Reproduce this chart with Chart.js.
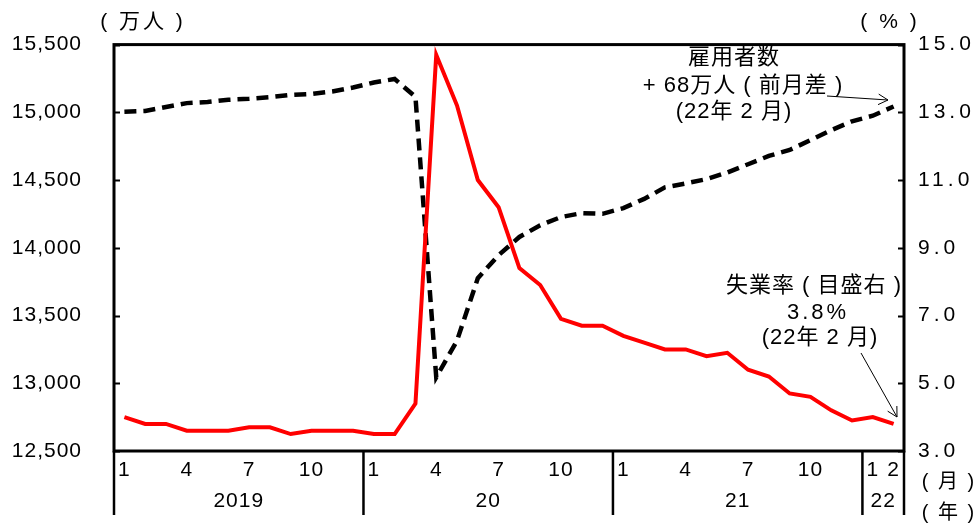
<!DOCTYPE html>
<html>
<head>
<meta charset="utf-8">
<script src="https://cdn.jsdelivr.net/npm/chart.js@4/dist/chart.umd.min.js"></script>
<style>
  html, body { margin: 0; padding: 0; background: #fff; overflow: hidden; }
  canvas { display: block; }
</style>
</head>
<body>
<canvas id="c" width="979" height="524"></canvas>
<script>
// Monthly categories, 2019/1 – 2022/2
const months = [
  '2019/1','2019/2','2019/3','2019/4','2019/5','2019/6','2019/7','2019/8','2019/9','2019/10','2019/11','2019/12',
  '2020/1','2020/2','2020/3','2020/4','2020/5','2020/6','2020/7','2020/8','2020/9','2020/10','2020/11','2020/12',
  '2021/1','2021/2','2021/3','2021/4','2021/5','2021/6','2021/7','2021/8','2021/9','2021/10','2021/11','2021/12',
  '2022/1','2022/2'
];

// Month labels shown under the axis
const monthTicks = [
  '1','','','4','','','7','','','10','','',
  '1','','','4','','','7','','','10','','',
  '1','','','4','','','7','','','10','','',
  '1','2'
];

// Year labels under each block of months
const yearLabels = ['2019', '20', '21', '22'];

// Employees (万人), left axis
const employees = [
  15005, 15010, 15039, 15068, 15076, 15093, 15100, 15112, 15129, 15136, 15154, 15183,
  15220, 15246, 15115, 13044, 13315, 13775, 13946, 14080, 14166, 14227, 14256, 14251,
  14293, 14361, 14446, 14475, 14507, 14556, 14617, 14678, 14722, 14795, 14868, 14934,
  14975, 15043
];

// Unemployment rate (%), right axis
const unemployment = [
  4.0, 3.8, 3.8, 3.6, 3.6, 3.6, 3.7, 3.7, 3.5, 3.6, 3.6, 3.6,
  3.5, 3.5, 4.4, 14.7, 13.2, 11.0, 10.2, 8.4, 7.9, 6.9, 6.7, 6.7,
  6.4, 6.2, 6.0, 6.0, 5.8, 5.9, 5.4, 5.2, 4.7, 4.6, 4.2, 3.9,
  4.0, 3.8
];

// Axis ranges
const leftAxis = { min: 12500, max: 15500, step: 500 };
const rightAxis = { min: 3, max: 15, step: 2 };

const FONT = '"Liberation Sans", Arial, "Noto Sans CJK JP", sans-serif';

function arrow(ctx, x1, y1, x2, y2) {
  ctx.beginPath();
  ctx.moveTo(x1, y1);
  ctx.lineTo(x2, y2);
  ctx.stroke();
  const ang = Math.atan2(y2 - y1, x2 - x1);
  const len = 11, spread = 0.5;
  ctx.beginPath();
  ctx.moveTo(x2 - len * Math.cos(ang - spread), y2 - len * Math.sin(ang - spread));
  ctx.lineTo(x2, y2);
  ctx.lineTo(x2 - len * Math.cos(ang + spread), y2 - len * Math.sin(ang + spread));
  ctx.stroke();
}

function text(ctx, str, x, y, size, spacing) {
  ctx.font = size + 'px ' + FONT;
  ctx.letterSpacing = spacing + 'px';
  ctx.fillText(str, x, y);
}

// Frame, inward ticks, right-axis labels, two-tier month/year axis and notes
const overlay = {
  id: 'overlay',
  beforeDraw(chart) {
    chart.ctx.letterSpacing = '1px';
  },
  afterDraw(chart) {
    const { ctx, chartArea: a, scales } = chart;
    const x = scales.x, yl = scales.y, yr = scales.y1;
    ctx.save();
    ctx.strokeStyle = '#000';
    ctx.fillStyle = '#000';

    // plot frame
    ctx.lineWidth = 3;
    ctx.strokeRect(a.left, a.top, a.right - a.left, a.bottom - a.top);

    // inward tick marks on both value axes
    ctx.lineWidth = 2;
    yl.ticks.forEach(t => {
      const py = Math.round(yl.getPixelForValue(t.value)) + 0.5;
      ctx.beginPath(); ctx.moveTo(a.left, py); ctx.lineTo(a.left + 6, py); ctx.stroke();
    });
    ctx.textAlign = 'left';
    ctx.textBaseline = 'middle';
    yr.ticks.forEach(t => {
      const py = yr.getPixelForValue(t.value);
      const ry = Math.round(py) + 0.5;
      ctx.beginPath(); ctx.moveTo(a.right - 6, ry); ctx.lineTo(a.right, ry); ctx.stroke();
      text(ctx, Number(t.value).toFixed(1), a.right + 14, py, 21, 4);
    });

    // year dividers below the plot
    const half = (x.getPixelForValue(1) - x.getPixelForValue(0)) / 2;
    const starts = [];
    months.forEach((m, i) => { if (m.endsWith('/1')) starts.push(i); });
    const edges = starts.map(i => x.getPixelForValue(i) - half);
    edges.push(x.getPixelForValue(months.length - 1) + half);
    ctx.lineWidth = 2.5;
    edges.forEach(ex => {
      ctx.beginPath(); ctx.moveTo(ex, a.bottom); ctx.lineTo(ex, a.bottom + 64); ctx.stroke();
    });

    ctx.textAlign = 'center';
    // month labels
    monthTicks.forEach((t, i) => {
      if (t) text(ctx, t, x.getPixelForValue(i), a.bottom + 19, 21, 1);
    });
    // year labels
    yearLabels.forEach((y, k) => {
      text(ctx, y, (edges[k] + edges[k + 1]) / 2, a.bottom + 50, 21, 1);
    });

    // unit labels
    text(ctx, '( 月 )', 949, 482, 20, 2);
    text(ctx, '( 年 )', 949, 513, 20, 2);
    text(ctx, '( 万人 )', 143, 22, 21, 3);
    text(ctx, '( % )', 890, 22, 21, 3);

    // notes
    text(ctx, '雇用者数', 734, 58, 22, 1);
    text(ctx, '+ 68万人 ( 前月差 )', 743, 86, 22, 1);
    text(ctx, '(22年 2 月)', 734, 112, 22, 1);

    text(ctx, '失業率 ( 目盛右 )', 814, 286, 22, 1);
    text(ctx, '3.8%', 818, 313, 22, 3);
    text(ctx, '(22年 2 月)', 820, 338, 22, 1);

    ctx.lineWidth = 1;
    arrow(ctx, 827, 96, 888, 100);
    arrow(ctx, 861, 353, 897, 417);

    ctx.restore();
  }
};

new Chart(document.getElementById('c'), {
  type: 'line',
  data: {
    labels: months,
    datasets: [
      {
        label: '失業率',
        data: unemployment,
        yAxisID: 'y1',
        borderColor: '#ff0000',
        borderWidth: 4,
        pointRadius: 0,
        tension: 0,
        fill: false,
        order: 1
      },
      {
        label: '雇用者数',
        data: employees,
        yAxisID: 'y',
        borderColor: '#000000',
        borderWidth: 4.5,
        borderDash: [12, 7],
        pointRadius: 0,
        tension: 0,
        fill: false,
        order: 2
      }
    ]
  },
  options: {
    responsive: false,
    animation: false,
    devicePixelRatio: 1,
    layout: { padding: { top: 41, bottom: 73, left: 0, right: 0 } },
    plugins: {
      legend: { display: false },
      tooltip: { enabled: false },
      title: { display: false }
    },
    scales: {
      x: {
        type: 'category',
        offset: true,
        display: false
      },
      y: {
        position: 'left',
        min: leftAxis.min,
        max: leftAxis.max,
        afterFit: s => { s.width = 114; },
        grid: { display: false, drawTicks: false },
        border: { display: false },
        ticks: {
          stepSize: leftAxis.step,
          padding: 32,
          color: '#000',
          font: { family: FONT, size: 21 },
          callback: v => v.toLocaleString('en-US')
        }
      },
      y1: {
        position: 'right',
        min: rightAxis.min,
        max: rightAxis.max,
        afterFit: s => { s.width = 75; },
        grid: { display: false, drawTicks: false },
        border: { display: false },
        ticks: {
          display: false,
          stepSize: rightAxis.step
        }
      }
    }
  },
  plugins: [overlay]
});
</script>
</body>
</html>
